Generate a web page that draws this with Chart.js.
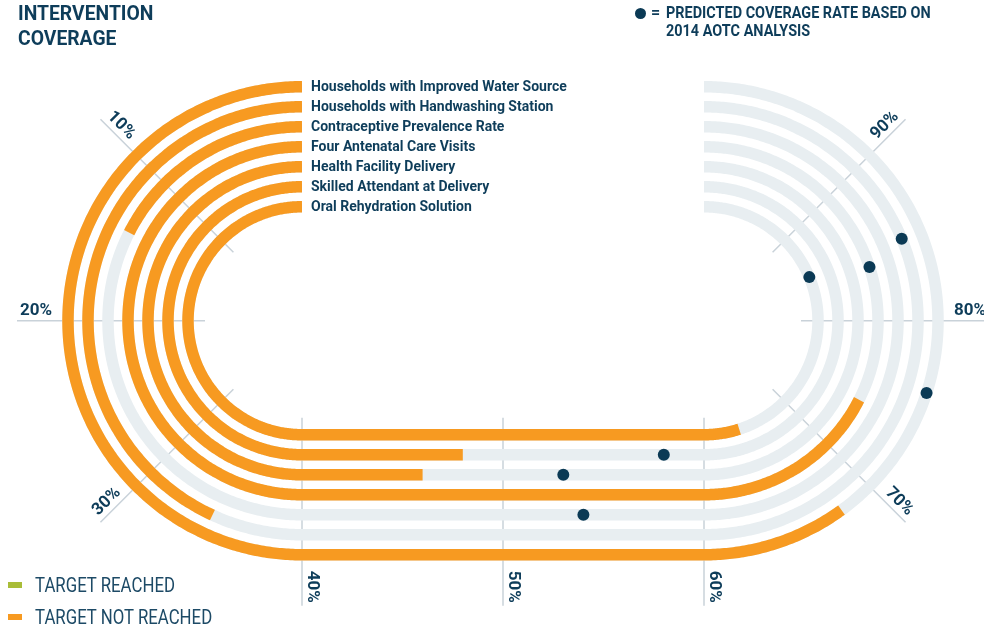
<!DOCTYPE html>
<html>
<head>
<meta charset="utf-8">
<script src="https://cdn.jsdelivr.net/npm/chart.js@4.4.1/dist/chart.umd.min.js"></script>
<style>
  body { margin: 0; background: #fff; }
  #wrap { position: relative; width: 984px; height: 630px; font-family: Roboto, "DejaVu Sans Condensed", sans-serif; color: #0e3d5a; }
  #chart { position: absolute; left: 0; top: 0; }
  .title { position: absolute; left: 18px; top: 1px; font-weight: bold; font-size: 21px; line-height: 25px; transform: scaleX(0.92); transform-origin: 0 0; }
  .key-dot { position: absolute; left: 635px; top: 8px; width: 11px; height: 11px; border-radius: 50%; background: #0b3a55; }
  .key-eq { position: absolute; left: 651px; top: 3px; font-weight: bold; font-size: 16px; }
  .key { position: absolute; left: 666px; top: 3px; font-weight: bold; font-size: 17px; line-height: 18px; transform: scaleX(0.85); transform-origin: 0 0; white-space: nowrap; }
  .leg { position: absolute; left: 8px; font-size: 21px; color: #1d4a66; white-space: nowrap; }
  .leg span { position: absolute; left: 0; width: 14px; height: 6px; }
  .leg b { position: absolute; left: 27px; top: 0; font-weight: normal; transform: scaleX(0.8); transform-origin: 0 0; }
</style>
</head>
<body>
<div id="wrap">
  <canvas id="chart" width="984" height="630"></canvas>
  <div class="title">INTERVENTION<br>COVERAGE</div>
  <div class="key-dot"></div>
  <div class="key-eq">=</div>
  <div class="key">PREDICTED COVERAGE RATE BASED ON<br>2014 AOTC ANALYSIS</div>
  <div class="leg" style="top:573px"><span style="top:9px;background:#a9bd38"></span><b>TARGET REACHED</b></div>
  <div class="leg" style="top:605px"><span style="top:9px;background:#f79a21"></span><b>TARGET NOT REACHED</b></div>
</div>
<script>
// indicators, outermost track first
const categories = [
    'Households with Improved Water Source',
    'Households with Handwashing Station',
    'Contraceptive Prevalence Rate',
    'Four Antenatal Care Visits',
    'Health Facility Delivery',
    'Skilled Attendant at Delivery',
    'Oral Rehydration Solution'
];
const actual = [68, 34.5, 14, 74, 46, 48, 64];
const predicted = [76, 85, 54, 84, 53, 58, 85];
const tickValues = [10, 20, 30, 40, 50, 60, 70, 80, 90];
const tickLabels = ['10%', '20%', '30%', '40%', '50%', '60%', '70%', '80%', '90%'];

// racetrack layout (in canvas units)
const CX_L = 302, CX_R = 704, CY = 320.75;
const R_OUT = 234, STEP = 20;
const ORANGE = '#f79a21', GREY = '#e8eef1', NAVY = '#0e3d5a', GRID = '#c9d2d9';
const FONT = 'Roboto, "DejaVu Sans Condensed", sans-serif';

function radius(i) { return R_OUT - i * STEP; }

// 0-40% left half circle, 40-60% bottom straight, 60-100% right half circle
function trackPoint(p, r) {
    if (p <= 40) {
        const a = p / 40 * Math.PI;
        return {x: CX_L - r * Math.sin(a), y: CY - r * Math.cos(a)};
    }
    if (p <= 60) {
        return {x: CX_L + (p - 40) / 20 * (CX_R - CX_L), y: CY + r};
    }
    const a = (p - 60) / 40 * Math.PI;
    return {x: CX_R + r * Math.sin(a), y: CY + r * Math.cos(a)};
}

function trackPath(from, to, r) {
    const pts = [];
    for (let p = from; p < to; p += 0.25) pts.push(trackPoint(p, r));
    pts.push(trackPoint(to, r));
    return pts;
}

const datasets = [];

datasets.push({
    data: predicted.map((p, i) => trackPoint(p, radius(i))),
    pointRadius: 6,
    pointBackgroundColor: '#0b3a55',
    pointBorderWidth: 0,
    order: 0
});

const band = {showLine: true, borderWidth: 11.5, tension: 0.3, borderCapStyle: 'butt', pointRadius: 0};

categories.forEach((c, i) => {
    datasets.push(Object.assign({data: trackPath(0, actual[i], radius(i)), borderColor: ORANGE, order: 1}, band));
    datasets.push(Object.assign({data: trackPath(0, 100, radius(i)), borderColor: GREY, order: 2}, band));
});

tickValues.forEach(t => {
    datasets.push({
        data: [trackPoint(t, 97), trackPoint(t, 285)],
        showLine: true, borderColor: GRID, borderWidth: 1.5, pointRadius: 0, order: 3
    });
});

const textPlugin = {
    id: 'trackText',
    afterDatasetsDraw(chart) {
        const ctx = chart.ctx;
        const xs = chart.scales.x, ys = chart.scales.y;
        ctx.save();
        ctx.fillStyle = NAVY;
        ctx.font = 'bold 14px ' + FONT;
        ctx.textBaseline = 'middle';
        ctx.textAlign = 'left';
        categories.forEach((c, i) => {
            const pt = trackPoint(0, radius(i));
            ctx.fillText(c, xs.getPixelForValue(pt.x) + 9, ys.getPixelForValue(pt.y) + 1);
        });

        ctx.font = 'bold 17px ' + FONT;
        ctx.textBaseline = 'alphabetic';
        tickValues.forEach((t, k) => {
            const o = trackPoint(t, 282);
            const inner = trackPoint(t, 100);
            const ox = xs.getPixelForValue(o.x), oy = ys.getPixelForValue(o.y);
            const ix = xs.getPixelForValue(inner.x), iy = ys.getPixelForValue(inner.y);
            let rot = Math.atan2(oy - iy, ox - ix);
            ctx.save();
            ctx.translate(ox, oy);
            if (t < 40) {
                rot += Math.PI;
                ctx.textAlign = 'left';
            } else {
                ctx.textAlign = 'right';
            }
            ctx.rotate(rot);
            ctx.fillText(tickLabels[k], 0, -6);
            ctx.restore();
        });
        ctx.restore();
    }
};

new Chart(document.getElementById('chart').getContext('2d'), {
    type: 'scatter',
    data: {datasets: datasets},
    options: {
        responsive: false,
        animation: false,
        events: [],
        layout: {autoPadding: false, padding: 0},
        plugins: {legend: {display: false}, tooltip: {enabled: false}},
        scales: {
            x: {type: 'linear', min: 0, max: 984, display: false},
            y: {type: 'linear', min: 0, max: 630, reverse: true, display: false}
        }
    },
    plugins: [textPlugin]
});
</script>
</body>
</html>
